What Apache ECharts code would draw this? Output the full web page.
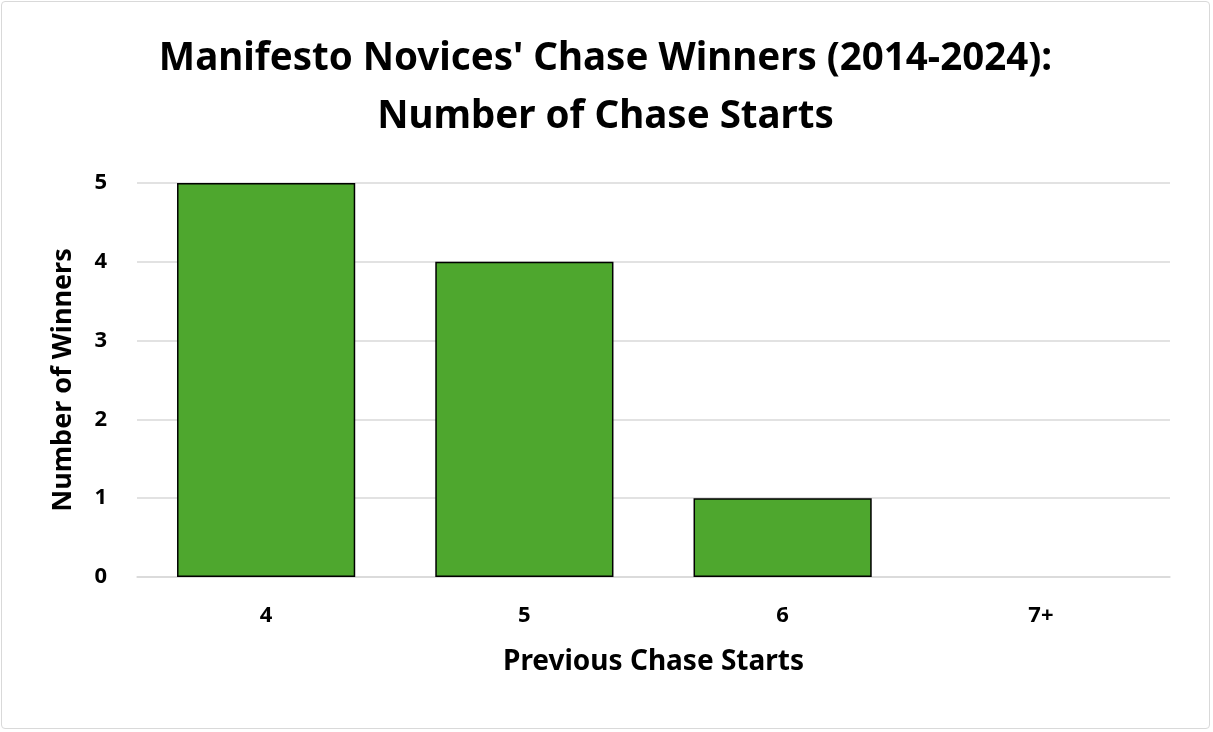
<!DOCTYPE html>
<html><head><meta charset="utf-8">
<script src="https://cdn.jsdelivr.net/npm/echarts@6/dist/echarts.min.js"></script>
<style>
html,body{margin:0;padding:0;background:#fff;}
#wrap{position:absolute;left:1px;top:1px;width:1209px;height:728px;border:1px solid #d9d9d9;border-radius:4px;box-sizing:border-box;}
#chart{width:100%;height:100%;}
</style></head>
<body><div id="wrap"><div id="chart"></div></div>
<script>
const categories = ['4', '5', '6', '7+'];
const winners = [5, 4, 1, 0];
const yTicks = [0, 1, 2, 3, 4, 5];
const titleText = "Manifesto Novices' Chase Winners (2014-2024):\nNumber of Chase Starts";
const xName = 'Previous Chase Starts';
const yName = 'Number of Winners';

const font = '"Noto Sans", "Liberation Sans", sans-serif';
const chart = echarts.init(document.getElementById('chart'));
chart.setOption({
  animation: false,
  title: {
    text: titleText, left: 'center', top: 23,
    textStyle: {fontFamily: font, fontWeight: 'bold', fontSize: 38.5, lineHeight: 58, color: '#000'}
  },
  grid: {left: 135, right: 39, top: 181, bottom: 151, containLabel: false},
  xAxis: {
    type: 'category', data: categories,
    name: xName, nameLocation: 'middle', nameGap: 71,
    nameTextStyle: {fontFamily: font, fontWeight: 'bold', fontSize: 28, color: '#000'},
    axisLine: {show: true, lineStyle: {color: '#d9d9d9', width: 1.5}},
    axisTick: {show: false},
    axisLabel: {fontFamily: font, fontWeight: 'bold', fontSize: 22, color: '#000', margin: 28}
  },
  yAxis: {
    type: 'value', min: yTicks[0], max: yTicks[yTicks.length - 1], interval: 1,
    name: yName, nameLocation: 'middle', nameGap: 60, nameRotate: 90,
    nameTextStyle: {fontFamily: font, fontWeight: 'bold', fontSize: 27, color: '#000'},
    axisLine: {show: false}, axisTick: {show: false},
    splitLine: {lineStyle: {color: '#d9d9d9', width: 1.5}},
    axisLabel: {fontFamily: font, fontWeight: 'bold', fontSize: 22, color: '#000', margin: 30}
  },
  series: [{
    type: 'bar', barWidth: '69%',
    data: winners.map(v => ({value: v, itemStyle: v === 0 ? {borderWidth: 0, opacity: 0} : {}})),
    itemStyle: {color: '#4EA72E', borderColor: '#000', borderWidth: 1.5}
  }]
});
</script></body></html>
